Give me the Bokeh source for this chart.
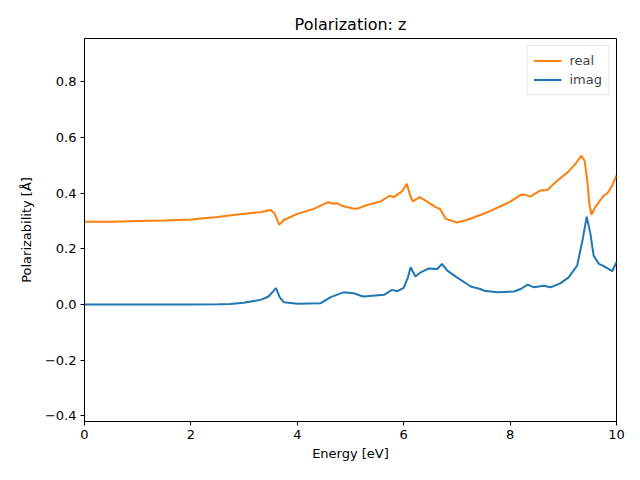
from bokeh.plotting import figure
from bokeh.models import FixedTicker, Range1d, Legend, LegendItem
from bokeh.embed import file_html
from bokeh.resources import INLINE

# Energy grid (eV) and values
real_E = [0.0, 0.5, 1.0, 1.5, 2.0, 2.5, 2.8, 3.0, 3.3, 3.5, 3.57, 3.66, 3.75, 4.0,
          4.31, 4.47, 4.58, 4.66, 4.76, 4.87, 5.03, 5.12, 5.31, 5.56, 5.73, 5.81,
          5.97, 6.06, 6.12, 6.17, 6.30, 6.44, 6.60, 6.68, 6.79, 7.0, 7.2, 7.44,
          7.6, 7.85, 8.01, 8.2, 8.27, 8.38, 8.57, 8.70, 8.89, 9.08, 9.23, 9.34,
          9.40, 9.45, 9.49, 9.53, 9.60, 9.76, 9.83, 9.92, 10.0]
real_v = [0.298, 0.298, 0.300, 0.302, 0.306, 0.315, 0.322, 0.326, 0.332, 0.340, 0.328,
          0.287, 0.304, 0.326, 0.344, 0.358, 0.368, 0.363, 0.363, 0.353, 0.346,
          0.344, 0.358, 0.370, 0.391, 0.386, 0.407, 0.434, 0.392, 0.371, 0.386,
          0.370, 0.350, 0.344, 0.308, 0.295, 0.305, 0.322, 0.334, 0.356, 0.371,
          0.394, 0.395, 0.388, 0.410, 0.412, 0.446, 0.475, 0.506, 0.535, 0.517,
          0.446, 0.362, 0.323, 0.350, 0.392, 0.400, 0.428, 0.464]

imag_E = [0.0, 1.0, 2.0, 2.5, 2.74, 2.99, 3.31, 3.46, 3.60, 3.67, 3.75, 4.0, 4.44,
          4.62, 4.75, 4.87, 5.06, 5.19, 5.25, 5.63, 5.78, 5.88, 6.0, 6.08, 6.13,
          6.22, 6.32, 6.47, 6.63, 6.72, 6.82, 7.0, 7.19, 7.26, 7.44, 7.51, 7.76,
          8.07, 8.2, 8.33, 8.45, 8.63, 8.76, 8.95, 9.10, 9.26, 9.36, 9.44, 9.51,
          9.57, 9.67, 9.76, 9.92, 10.0]
imag_v = [0.0, 0.0, 0.0, 0.001, 0.002, 0.007, 0.017, 0.029, 0.059, 0.026, 0.008,
          0.003, 0.005, 0.026, 0.036, 0.044, 0.041, 0.032, 0.029, 0.035, 0.053,
          0.048, 0.060, 0.098, 0.134, 0.101, 0.116, 0.130, 0.128, 0.146, 0.122,
          0.098, 0.074, 0.065, 0.056, 0.050, 0.044, 0.047, 0.056, 0.072, 0.062,
          0.068, 0.062, 0.077, 0.098, 0.140, 0.230, 0.316, 0.254, 0.176, 0.146,
          0.138, 0.120, 0.152]

x_ticks = [0, 2, 4, 6, 8, 10]
y_ticks = [-0.4, -0.2, 0.0, 0.2, 0.4, 0.6, 0.8]
y_labels = ["\u22120.4", "\u22120.2", "0.0", "0.2", "0.4", "0.6", "0.8"]

FONT = "DejaVu Sans"

p = figure(width=632, height=472, output_backend="svg", toolbar_location=None,
           x_range=Range1d(0, 10), y_range=Range1d(-0.42, 0.956),
           title="Polarization: z",
           min_border_left=84, min_border_right=16, min_border_top=38,
           min_border_bottom=51)

p.title.align = "center"
p.title.text_font = FONT
p.title.text_font_size = "16px"
p.title.text_font_style = "normal"
p.title.text_color = "black"

p.xgrid.visible = False
p.ygrid.visible = False
p.outline_line_color = "black"
p.outline_line_width = 1
p.outline_line_alpha = 1

for ax in (p.xaxis[0], p.yaxis[0]):
    ax.major_tick_in = 0
    ax.major_tick_out = 4
    ax.major_tick_line_color = "black"
    ax.minor_tick_line_color = None
    ax.major_label_text_font = FONT
    ax.major_label_text_font_size = "13px"
    ax.major_label_text_color = "black"
    ax.axis_label_text_font = FONT
    ax.axis_label_text_font_size = "13px"
    ax.axis_label_text_font_style = "normal"
    ax.axis_label_text_color = "black"
    ax.axis_line_color = "black"

p.xaxis.ticker = FixedTicker(ticks=x_ticks)
p.xaxis.major_label_overrides = {t: str(t) for t in x_ticks}
p.yaxis.ticker = FixedTicker(ticks=y_ticks)
p.yaxis.major_label_overrides = {t: l for t, l in zip(y_ticks, y_labels)}
p.xaxis.axis_label = "Energy [eV]"
p.yaxis.axis_label = "Polarizability [\u00c5]"
p.xaxis.major_label_standoff = 4
p.yaxis.major_label_standoff = 4
p.xaxis.axis_label_standoff = 4
p.yaxis.axis_label_standoff = 8

r_real = p.line(real_E, real_v, line_color="#ff7f0e", line_width=2)
r_imag = p.line(imag_E, imag_v, line_color="#1f77b4", line_width=2)

legend = Legend(items=[LegendItem(label="real", renderers=[r_real]),
                       LegendItem(label="imag", renderers=[r_imag])],
                location="top_right")
legend.margin = 7
legend.padding = 6
legend.spacing = 2
legend.label_height = 17
legend.glyph_height = 17
legend.glyph_width = 28
legend.label_standoff = 8
legend.label_text_font = FONT
legend.label_text_font_size = "13px"
legend.border_line_color = "#cccccc"
legend.border_line_width = 1
legend.background_fill_alpha = 0.8
p.add_layout(legend)

open("out.html", "w").write(file_html(p, INLINE))
